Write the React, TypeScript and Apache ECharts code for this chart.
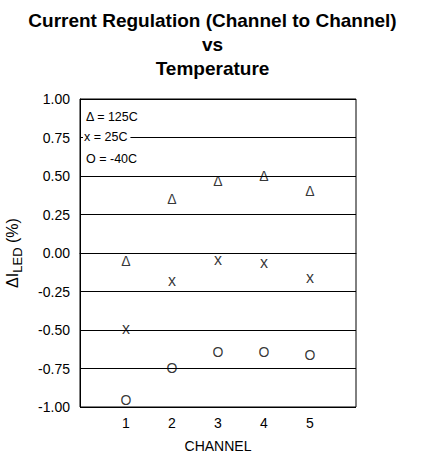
import React, { useEffect, useRef } from "react";
import * as echarts from "echarts";

const channels = [1, 2, 3, 4, 5];
const t125 = [-0.05, 0.35, 0.47, 0.5, 0.4];
const t25 = [-0.49, -0.18, -0.04, -0.06, -0.16];
const tm40 = [-0.955, -0.745, -0.64, -0.64, -0.665];
const legendTexts = ["Δ = 125C", "x = 25C", "O = -40C"];
const FONT = "'Liberation Sans', Arial, sans-serif";

function mk(name: string, vals: number[], glyph: string, size: number) {
  return {
    name,
    type: "scatter",
    data: channels.map((c, i) => [c, vals[i]]),
    symbol: "circle",
    symbolSize: 2,
    itemStyle: { color: "transparent" },
    label: {
      show: true,
      position: "inside",
      formatter: () => glyph,
      color: "#000",
      fontFamily: FONT,
      fontSize: size,
    },
  };
}

export default function App() {
  const ref = useRef<HTMLDivElement>(null);
  useEffect(() => {
    const chart = echarts.init(ref.current!, null, { renderer: "svg" });
    chart.setOption({
      animation: false,
      backgroundColor: "#fff",
      title: {
        text: "Current Regulation (Channel to Channel)\nvs\nTemperature",
        left: "center",
        top: 3,
        textStyle: {
          fontFamily: FONT,
          fontWeight: "bold",
          fontSize: 19,
          lineHeight: 24,
          color: "#000",
        },
      },
      grid: {
        left: 80,
        right: 69,
        top: 99,
        bottom: 50,
        show: true,
        borderColor: "#000",
        borderWidth: 1,
        containLabel: false,
        outerBoundsMode: "none",
      },
      xAxis: {
        type: "value",
        min: 0,
        max: 6,
        interval: 1,
        name: "CHANNEL",
        nameLocation: "middle",
        nameGap: 32,
        nameTextStyle: { fontFamily: FONT, fontSize: 14, color: "#000" },
        axisLine: { show: true, lineStyle: { color: "#000" } },
        axisTick: { show: false },
        splitLine: { show: false },
        axisLabel: {
          fontFamily: FONT,
          fontSize: 14,
          color: "#000",
          margin: 9,
          formatter: (v: number) => (v >= 1 && v <= 5 ? String(v) : ""),
        },
      },
      yAxis: {
        type: "value",
        min: -1,
        max: 1,
        interval: 0.25,
        name: "{a|ΔI}{b|LED}{a| (%)}",
        nameLocation: "middle",
        nameGap: 56,
        nameRotate: 90,
        nameTextStyle: {
          rich: {
            a: { fontFamily: FONT, fontSize: 16, color: "#000", lineHeight: 24, verticalAlign: "middle" },
            b: { fontFamily: FONT, fontSize: 13, color: "#000", lineHeight: 24, verticalAlign: "bottom" },
          },
        },
        axisLine: { show: true, lineStyle: { color: "#000" } },
        axisTick: { show: false },
        splitLine: { show: true, lineStyle: { color: "#000", width: 1 } },
        axisLabel: {
          fontFamily: FONT,
          fontSize: 14,
          color: "#000",
          margin: 10,
          formatter: (v: number) => v.toFixed(2),
        },
      },
      graphic: [
        {
          type: "text",
          left: 86,
          top: 110,
          z: 100,
          style: { text: legendTexts[0], fontFamily: FONT, fontSize: 12.5, fill: "#000" },
        },
        {
          type: "text",
          left: 83,
          top: 130,
          z: 100,
          style: {
            text: legendTexts[1],
            fontFamily: FONT,
            fontSize: 12.5,
            fill: "#000",
            backgroundColor: "#fff",
            padding: [0, 3, 0, 1],
          },
        },
        {
          type: "text",
          left: 86,
          top: 152,
          z: 100,
          style: { text: legendTexts[2], fontFamily: FONT, fontSize: 12.5, fill: "#000" },
        },
      ],
      series: [mk("125C", t125, "Δ", 14), mk("25C", t25, "x", 16), mk("-40C", tm40, "O", 14)],
    });
    return () => chart.dispose();
  }, []);
  return (
    <div
      ref={ref}
      style={{ position: "fixed", left: 0, top: 0, width: 425, height: 457 }}
    />
  );
}
